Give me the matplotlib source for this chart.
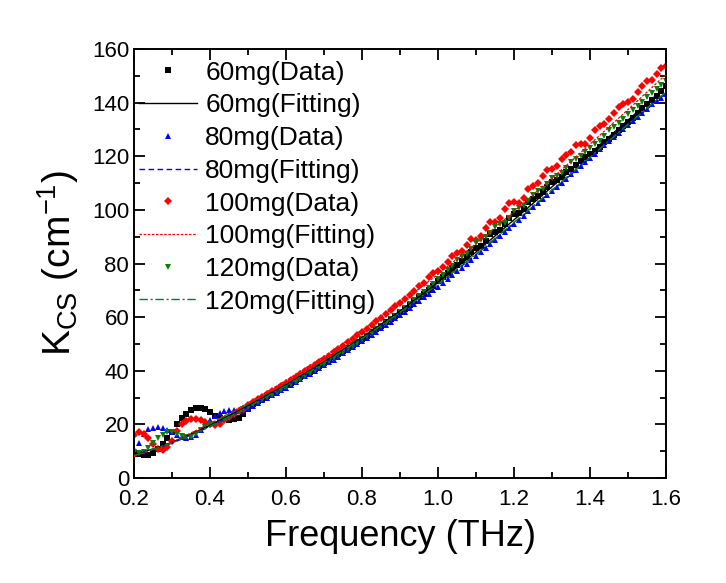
import numpy as np
import matplotlib
matplotlib.use("Agg")
import matplotlib.pyplot as plt
from matplotlib.ticker import MultipleLocator

plt.rcParams['font.family'] = ['Liberation Sans', 'DejaVu Sans']
plt.rcParams['mathtext.default'] = 'regular'

# THz sampling grid of the measured spectra (0.2 - 1.6 THz, 113 points)
freq = np.linspace(0.2, 1.6, 113)

k60_data = [
    9.0, 8.8, 8.6, 8.7, 9.3, 10.8, 12.8, 14.8, 17.3, 20.2, 22.3, 24.0, 25.3, 26.0, 26.1, 25.6,
    24.5, 23.3, 22.5, 22.0, 21.8, 21.9, 22.5, 23.8, 25.6, 27.6, 28.6, 29.6, 30.6, 31.6, 32.5, 33.6,
    34.6, 35.5, 36.5, 37.6, 38.7, 39.6, 40.7, 41.7, 42.8, 43.9, 45.0, 46.1, 47.3, 48.4, 49.6, 50.8,
    51.9, 53.1, 54.4, 55.5, 56.8, 58.1, 59.3, 60.6, 61.9, 63.2, 64.6, 66.0, 67.4, 68.8, 70.3, 71.8,
    73.3, 74.8, 76.5, 78.2, 79.6, 80.9, 82.5, 84.4, 85.9, 86.7, 88.5, 90.9, 91.9, 92.4, 94.6, 96.8,
    98.4, 99.0, 100.4, 102.8, 104.2, 105.0, 106.6, 108.5, 110.3, 111.2, 112.3, 114.0, 115.3, 116.6, 118.2, 119.6,
    120.8, 122.0, 123.6, 125.2, 126.4, 128.0, 129.8, 131.2, 132.6, 134.4, 136.0, 137.9, 139.5, 140.8, 142.6, 144.3,
    146.2]

k80_data = [
    10.8, 13.0, 16.5, 18.2, 18.8, 18.9, 18.7, 18.1, 17.2, 16.2, 15.3, 15.0, 15.2, 16.2, 17.8, 19.6,
    21.5, 23.2, 24.4, 25.1, 25.4, 25.2, 25.0, 25.3, 26.0, 26.9, 28.0, 29.0, 30.0, 30.9, 31.8, 32.8,
    33.7, 34.7, 35.7, 36.8, 37.9, 38.8, 39.9, 40.9, 42.0, 43.1, 44.2, 45.3, 46.5, 47.6, 48.7, 49.9,
    51.0, 52.2, 53.4, 54.6, 55.9, 57.1, 58.3, 59.6, 60.8, 62.1, 63.5, 64.8, 66.1, 67.4, 68.8, 70.1,
    71.4, 72.8, 74.3, 75.7, 77.1, 78.5, 80.0, 81.4, 82.8, 84.3, 85.8, 87.3, 88.8, 90.3, 91.8, 93.3,
    94.8, 96.3, 97.9, 99.4, 101.0, 102.5, 104.0, 105.6, 107.1, 108.7, 110.2, 111.7, 113.3, 114.8, 116.4, 117.9,
    119.5, 121.0, 122.6, 124.1, 125.7, 127.2, 128.8, 130.3, 131.8, 133.3, 134.8, 136.3, 137.8, 139.3, 140.6, 141.8,
    143.2]

k100_data = [
    16.2, 17.0, 16.6, 14.8, 12.6, 11.0, 10.5, 11.6, 14.0, 17.5, 20.3, 21.4, 21.9, 22.0, 21.6, 20.9,
    20.0, 19.6, 20.3, 21.6, 22.8, 23.8, 24.9, 25.9, 27.2, 28.2, 29.4, 30.3, 31.4, 32.4, 33.3, 34.4,
    35.4, 36.6, 37.6, 38.8, 39.9, 41.0, 42.2, 43.4, 44.5, 45.7, 47.0, 48.2, 49.4, 50.7, 51.9, 53.2,
    54.4, 55.7, 57.1, 58.4, 59.8, 61.2, 62.5, 64.0, 65.4, 66.8, 68.4, 69.8, 71.5, 72.6, 74.8, 76.6,
    77.3, 78.6, 80.6, 82.9, 84.0, 84.6, 86.9, 89.0, 88.9, 90.2, 93.2, 95.4, 95.6, 97.0, 100.3, 102.6,
    102.8, 102.4, 104.6, 107.8, 108.9, 110.0, 112.7, 114.8, 115.4, 116.3, 118.9, 120.4, 121.4, 124.1, 124.6, 124.6,
    126.8, 129.8, 131.3, 132.2, 134.0, 136.3, 138.4, 139.6, 140.2, 141.5, 143.8, 146.1, 148.0, 148.5, 150.6, 152.9,
    153.5]

k120_data = [
    9.8, 9.5, 9.8, 11.2, 13.0, 14.8, 16.2, 17.0, 17.1, 16.6, 15.8, 15.2, 15.3, 16.4, 17.8, 18.9,
    19.6, 20.3, 21.1, 22.0, 22.9, 23.8, 24.7, 25.6, 26.5, 27.6, 28.3, 29.2, 30.1, 31.0, 32.0, 32.9,
    33.9, 35.0, 36.0, 37.0, 38.1, 39.2, 40.2, 41.3, 42.4, 43.5, 44.7, 45.8, 47.0, 48.2, 49.3, 50.5,
    51.7, 52.9, 54.2, 55.5, 56.8, 58.0, 59.3, 60.6, 61.9, 63.3, 64.8, 66.3, 67.8, 69.3, 70.9, 72.5,
    74.1, 75.9, 77.4, 79.0, 81.3, 82.6, 83.4, 85.3, 87.5, 88.9, 89.8, 91.5, 93.8, 94.6, 95.2, 97.1,
    99.5, 100.6, 101.4, 103.4, 105.6, 107.0, 107.9, 109.8, 111.9, 112.8, 113.7, 115.8, 117.7, 118.9, 120.0, 121.4,
    123.2, 124.6, 125.8, 127.6, 129.6, 130.9, 132.3, 134.0, 135.8, 137.2, 138.6, 140.3, 142.0, 143.5, 144.9, 146.6,
    148.0]

# fitted curves
fit_freq = [0.2, 0.3, 0.4, 0.5, 0.6, 0.7, 0.8, 0.9, 1.0, 1.1, 1.2, 1.3, 1.4, 1.5, 1.6]
k60_fit = [8.5, 13.3, 19.6, 26.9, 34.8, 43.3, 52.4, 62.3, 72.9, 84.3, 96.3, 108.6, 121.0, 133.5, 146.0]
k80_fit = [8.3, 13.0, 19.2, 26.5, 34.3, 42.8, 51.8, 61.6, 72.1, 83.3, 95.0, 107.1, 119.3, 131.6, 143.5]
k100_fit = [8.0, 13.4, 20.3, 28.0, 36.4, 45.4, 55.0, 65.2, 76.0, 87.4, 99.4, 111.8, 124.5, 137.4, 150.5]
k120_fit = [8.4, 13.1, 19.3, 26.5, 34.4, 42.9, 52.0, 61.8, 72.3, 83.5, 95.3, 107.4, 119.6, 131.9, 144.0]

green = '#0a7d0a'

fig = plt.figure(figsize=(7.26, 5.83), dpi=100)
ax = fig.add_axes([0.1846, 0.180, 0.7328, 0.736])

ax.plot(freq, k60_data, 's', color='black', ms=3.8, mew=0, label='60mg(Data)')
ax.plot(fit_freq, k60_fit, '-', color='black', lw=1.0, zorder=5, label='60mg(Fitting)')
ax.plot(freq, k80_data, '^', color='blue', ms=5.0, mew=0, label='80mg(Data)')
ax.plot(fit_freq, k80_fit, color='blue', lw=1.0, ls=(0, (4, 2.5)), zorder=5, label='80mg(Fitting)')
ax.plot(freq, k100_data, 'D', color='red', ms=4.3, mew=0, label='100mg(Data)')
ax.plot(fit_freq, k100_fit, color='red', lw=0.9, ls=(0, (2, 1.3)), zorder=5, label='100mg(Fitting)')
ax.plot(freq, k120_data, 'v', color=green, ms=5.0, mew=0, label='120mg(Data)')
ax.plot(fit_freq, k120_fit, color=green, lw=1.0, ls=(0, (6, 2, 1.5, 2)), zorder=5, label='120mg(Fitting)')

ax.set_xlim(0.2, 1.6)
ax.set_ylim(0, 160)
ax.xaxis.set_major_locator(MultipleLocator(0.2))
ax.xaxis.set_minor_locator(MultipleLocator(0.1))
ax.yaxis.set_major_locator(MultipleLocator(20))
ax.yaxis.set_minor_locator(MultipleLocator(10))
ax.xaxis.set_major_formatter(matplotlib.ticker.FormatStrFormatter('%.1f'))

ax.tick_params(which='both', direction='in', top=True, right=True, width=1.3, labelsize=16)
ax.tick_params(which='major', length=8)
ax.tick_params(which='minor', length=4)
ax.tick_params(axis='x', pad=8)
for sp in ax.spines.values():
    sp.set_linewidth(1.4)

ax.set_xlabel('Frequency (THz)', fontsize=26, labelpad=6)
ax.set_ylabel('K$_{CS}$ (cm$^{-1}$)', fontsize=28, labelpad=8)

leg = ax.legend(loc='upper left', bbox_to_anchor=(0.0, 0.985), frameon=False,
                fontsize=19, handlelength=2.2, handletextpad=0.3,
                labelspacing=0.33, borderpad=0.2, borderaxespad=0, numpoints=1)

fig.savefig('out.png', dpi=100)
